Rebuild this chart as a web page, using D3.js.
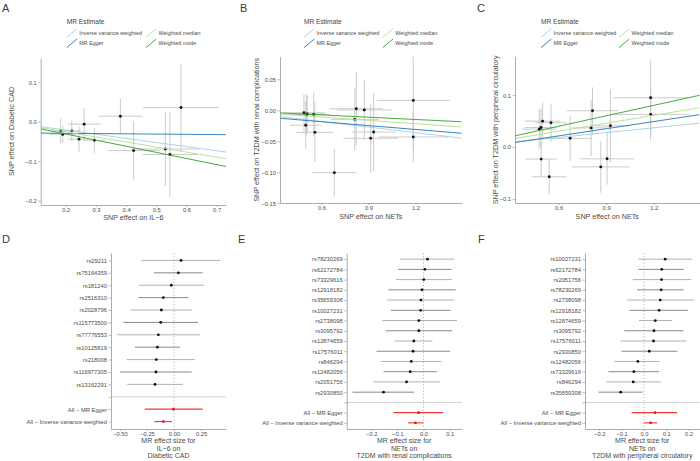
<!DOCTYPE html>
<html><head><meta charset="utf-8">
<script src="https://cdn.jsdelivr.net/npm/d3@7"></script>
<style>
body{margin:0;background:#fff}
svg{display:block}
text{font-family:"Liberation Sans",Arial,Helvetica,sans-serif}
</style>
</head><body>
<svg id="chart" width="700" height="461"></svg>
<script>
// ---------- Methods ----------
const methodNames = ["Inverse variance weighted", "MR Egger", "Weighted median", "Weighted mode"];
const methodColors = ["#a6cee3", "#1f78b4", "#b2df8a", "#33a02c"];

// ---------- Panel A (IL-6 -> Diabetic CAD) ----------
const aExpBeta = [0.183, 0.190, 0.220, 0.244, 0.261, 0.295, 0.381, 0.425, 0.530, 0.545, 0.582];
const aExpSe   = [0.030, 0.045, 0.030, 0.036, 0.054, 0.036, 0.073, 0.085, 0.110, 0.090, 0.126];
const aOutBeta = [-0.023, -0.032, -0.023, -0.044, -0.006, -0.047, 0.014, -0.073, -0.069, -0.083, 0.036];
const aOutSe   = [0.032, 0.022, 0.026, 0.032, 0.041, 0.032, 0.044, 0.074, 0.095, 0.109, 0.110];
const aIntercepts = [0, -0.028, 0, 0];
const aSlopes     = [-0.105, -0.0064, -0.128, -0.155];
const aXTicks = [0.2, 0.3, 0.4, 0.5, 0.6, 0.7];
const aYTicks = [-0.2, -0.1, 0.0, 0.1];

// ---------- Panel B (NETs -> T2DM renal) ----------
const bExpBeta = [0.488, 0.499, 0.505, 0.509, 0.550, 0.558, 0.682, 0.812, 0.822, 0.873, 0.914, 0.933, 1.186, 1.186];
const bExpSe   = [0.130, 0.100, 0.110, 0.120, 0.100, 0.120, 0.140, 0.155, 0.170, 0.175, 0.175, 0.140, 0.234, 0.220];
const bOutBeta = [-0.004, -0.024, -0.007, -0.006, -0.0065, -0.0355, -0.1006, -0.0146, 0.0026, 0.0005, -0.045, -0.035, 0.016, -0.043];
const bOutSe   = [0.030, 0.038, 0.033, 0.030, 0.035, 0.048, 0.038, 0.050, 0.060, 0.048, 0.055, 0.063, 0.080, 0.042];
const bIntercepts = [0, -0.0059, 0, 0];
const bSlopes     = [-0.030, -0.0208, -0.018, -0.0123];
const bXTicks = [0.6, 0.9, 1.2];
const bYTicks = [-0.15, -0.10, -0.05, 0.00, 0.05];

// ---------- Panel C (NETs -> T2DM peripheral circulatory) ----------
const cExpBeta = [0.478, 0.489, 0.499, 0.552, 0.490, 0.541, 0.673, 0.814, 0.805, 0.866, 0.906, 0.927, 1.181, 1.181];
const cExpSe   = [0.110, 0.100, 0.113, 0.100, 0.100, 0.110, 0.140, 0.163, 0.120, 0.180, 0.170, 0.130, 0.233, 0.240];
const cOutBeta = [0.0346, 0.0377, 0.050, 0.047, -0.023, -0.057, 0.017, 0.070, 0.037, -0.038, -0.0225, 0.041, 0.095, 0.063];
const cOutSe   = [0.038, 0.038, 0.036, 0.037, 0.035, 0.035, 0.043, 0.045, 0.054, 0.050, 0.050, 0.070, 0.072, 0.050];
const cIntercepts = [0, -0.006, 0, 0];
const cSlopes     = [0.031, 0.046, 0.051, 0.067];
const cXTicks = [0.6, 0.9, 1.2];
const cYTicks = [-0.1, 0.0, 0.1];

// ---------- Panel D forest ----------
const dSnps = ["rs29211","rs75164359","rs181240","rs2516310","rs2028796","rs115773500","rs77776553","rs10125819","rs218008","rs116977305","rs13162291"];
const dB  = [0.065, 0.040, -0.025, -0.099, -0.117, -0.123, -0.145, -0.154, -0.164, -0.167, -0.176];
const dLo = [-0.300, -0.185, -0.324, -0.330, -0.400, -0.469, -0.531, -0.361, -0.438, -0.500, -0.432];
const dHi = [0.426, 0.265, 0.278, 0.133, 0.164, 0.222, 0.241, 0.056, 0.194, 0.164, 0.080];
const dAllB  = [-0.006, -0.099];
const dAllLo = [-0.270, -0.182];
const dAllHi = [0.265, -0.019];
const dXTicks = [-0.50, -0.25, 0.00, 0.25];

// ---------- Panel E forest ----------
const eSnps = ["rs78230269","rs62172784","rs73329616","rs12918182","rs35659308","rs10027231","rs2738098","rs3095792","rs12874659","rs17576011","rs846294","rs12482056","rs2051756","rs2930850"];
const eB  = [0.015, 0.005, 0.001, -0.006, -0.010, -0.011, -0.018, -0.018, -0.037, -0.040, -0.047, -0.051, -0.065, -0.153];
const eLo = [-0.089, -0.097, -0.106, -0.134, -0.138, -0.125, -0.158, -0.144, -0.110, -0.180, -0.163, -0.153, -0.192, -0.272];
const eHi = [0.118, 0.107, 0.110, 0.123, 0.116, 0.103, 0.128, 0.110, 0.034, 0.102, 0.068, 0.051, 0.063, -0.036];
const eAllB  = [-0.019, -0.031];
const eAllLo = [-0.116, -0.060];
const eAllHi = [0.075, -0.001];
const eXTicks = [-0.2, -0.1, 0.0, 0.1];

// ---------- Panel F forest ----------
const fSnps = ["rs10027231","rs62172784","rs2051756","rs78230269","rs2738098","rs12918182","rs12874659","rs3095792","rs17576011","rs2930850","rs12482056","rs73329616","rs846294","rs35659308"];
const fB  = [0.095, 0.080, 0.079, 0.077, 0.073, 0.068, 0.051, 0.045, 0.043, 0.024, -0.027, -0.045, -0.048, -0.104];
const fLo = [-0.025, -0.025, -0.050, -0.031, -0.074, -0.065, -0.022, -0.088, -0.105, -0.100, -0.132, -0.159, -0.169, -0.204];
const fHi = [0.217, 0.178, 0.212, 0.178, 0.224, 0.198, 0.126, 0.177, 0.190, 0.150, 0.070, 0.068, 0.076, -0.006];
const fAllB  = [0.049, 0.030];
const fAllLo = [-0.055, 0.000];
const fAllHi = [0.149, 0.060];
const fXTicks = [-0.2, -0.1, 0.0, 0.1, 0.2];

const allLabels = ["All \u2212 MR Egger", "All \u2212 Inverse variance weighted"];

// ---------- Drawing ----------
const svg = d3.select("#chart");
svg.append("rect").attr("width", 700).attr("height", 461).attr("fill", "#fff");

const TICK_FS = 5.8, TITLE_FS = 7.2;
const axisColor = "#8a8a8a", tickTextColor = "#4d4d4d", titleColor = "#4a4a4a";

function styleAxis(g) {
  g.select(".domain").attr("stroke", axisColor).attr("stroke-width", 0.7);
  g.selectAll(".tick line").attr("stroke", axisColor).attr("stroke-width", 0.6);
  g.selectAll(".tick text").attr("fill", tickTextColor).style("font-size", TICK_FS + "px")
    .style("font-family", '"Liberation Sans",Arial,sans-serif');
}

function panelLetter(txt, x, y) {
  svg.append("text").attr("x", x).attr("y", y).text(txt)
    .attr("fill", "#3a3a3a").style("font-size", "11px");
}

function legend(x0, col2x) {
  const g = svg.append("g");
  g.append("text").attr("x", x0).attr("y", 23.5).text("MR Estimate")
    .attr("fill", "#444").style("font-size", "6.6px");
  const rowsY = [33, 43.3];
  methodNames.forEach((m, i) => {
    const col = i < 2 ? 0 : 1;
    const row = i % 2;
    const kx = col === 0 ? x0 : col2x;
    const cy = rowsY[row];
    g.append("line").attr("x1", kx).attr("y1", cy + 4.3).attr("x2", kx + 10.3).attr("y2", cy - 4.3)
      .attr("stroke", methodColors[i]).attr("stroke-width", 0.9);
    g.append("text").attr("x", kx + 12.6).attr("y", cy + 1.9).text(m)
      .attr("fill", "#4d4d4d").style("font-size", "5.4px");
  });
}

let clipId = 0;
function scatterPanel(p) {
  const x = d3.scaleLinear().domain(p.xDomain).range([p.left, p.right]);
  const y = d3.scaleLinear().domain(p.yDomain).range([p.bottom, p.top]);
  const g = svg.append("g");
  const id = "clip" + (clipId++);
  svg.append("clipPath").attr("id", id).append("rect")
    .attr("x", p.left).attr("y", p.top).attr("width", p.right - p.left).attr("height", p.bottom - p.top);
  const plot = g.append("g").attr("clip-path", `url(#${id})`);
  const idx = d3.range(p.ex.length);
  plot.selectAll(".ev").data(idx).join("line")
    .attr("x1", i => x(p.ex[i])).attr("x2", i => x(p.ex[i]))
    .attr("y1", i => y(p.oy[i] - p.oySe[i])).attr("y2", i => y(p.oy[i] + p.oySe[i]))
    .attr("stroke", "#c6c6c6").attr("stroke-width", 0.9);
  plot.selectAll(".eh").data(idx).join("line")
    .attr("y1", i => y(p.oy[i])).attr("y2", i => y(p.oy[i]))
    .attr("x1", i => x(p.ex[i] - p.exSe[i])).attr("x2", i => x(p.ex[i] + p.exSe[i]))
    .attr("stroke", "#c6c6c6").attr("stroke-width", 0.9);
  plot.selectAll(".pt").data(idx).join("circle")
    .attr("cx", i => x(p.ex[i])).attr("cy", i => y(p.oy[i])).attr("r", 1.45).attr("fill", "#111");
  const [x0, x1] = p.xDomain;
  methodNames.forEach((m, k) => {
    plot.append("line")
      .attr("x1", x(x0)).attr("y1", y(p.intercepts[k] + p.slopes[k] * x0))
      .attr("x2", x(x1)).attr("y2", y(p.intercepts[k] + p.slopes[k] * x1))
      .attr("stroke", methodColors[k]).attr("stroke-width", 0.9);
  });
  g.append("g").attr("transform", `translate(0,${p.bottom})`)
    .call(d3.axisBottom(x).tickValues(p.xTicks).tickFormat(d3.format(p.xFmt)).tickSize(2).tickSizeOuter(0).tickPadding(1))
    .call(styleAxis);
  g.append("g").attr("transform", `translate(${p.left},0)`)
    .call(d3.axisLeft(y).tickValues(p.yTicks).tickFormat(d3.format(p.yFmt)).tickSize(2.5).tickSizeOuter(0).tickPadding(1.5))
    .call(styleAxis);
  g.append("text").attr("x", (p.left + p.right) / 2).attr("y", p.xTitleY).attr("text-anchor", "middle")
    .text(p.xTitle).attr("fill", titleColor).style("font-size", TITLE_FS + "px");
  g.append("text").attr("transform", `translate(${p.yTitleX},${(p.top + p.bottom) / 2}) rotate(-90)`)
    .attr("text-anchor", "middle").attr("dy", "0.35em")
    .text(p.yTitle).attr("fill", titleColor).style("font-size", TITLE_FS + "px");
}

function forestPanel(p) {
  const rows = p.snps.concat([" "], allLabels);
  const bAll = p.b.concat([null], p.allB);
  const loAll = p.lo.concat([null], p.allLo);
  const hiAll = p.hi.concat([null], p.allHi);
  const x = d3.scaleLinear().domain(p.xDomain).range([p.left, p.right]);
  const y = d3.scalePoint().domain(rows).range([p.top, p.bottom]).padding(0.6);
  const g = svg.append("g");
  const idx = d3.range(rows.length).filter(i => bAll[i] !== null);
  g.append("line").attr("x1", x(0)).attr("x2", x(0)).attr("y1", p.top).attr("y2", p.bottom)
    .attr("stroke", "#9a9a9a").attr("stroke-width", 0.7).attr("stroke-dasharray", "1.2,2");
  g.append("line").attr("x1", p.left).attr("x2", p.right).attr("y1", y(" ")).attr("y2", y(" "))
    .attr("stroke", "#bdbdbd").attr("stroke-width", 0.7);
  const isAll = i => i > p.snps.length;
  g.selectAll(".ci").data(idx).join("line")
    .attr("x1", i => x(loAll[i])).attr("x2", i => x(hiAll[i]))
    .attr("y1", i => y(rows[i])).attr("y2", i => y(rows[i]))
    .attr("stroke", i => isAll(i) ? "#f03a3a" : (i % 2 ? "#7a7a7a" : "#a8a8a8"))
    .attr("stroke-width", i => isAll(i) ? 1.1 : 0.9);
  g.selectAll(".pt").data(idx).join("circle")
    .attr("cx", i => x(bAll[i])).attr("cy", i => y(rows[i])).attr("r", 1.4)
    .attr("fill", i => isAll(i) ? "#e8141a" : "#111");
  g.append("g").attr("transform", `translate(0,${p.bottom})`)
    .call(d3.axisBottom(x).tickValues(p.xTicks).tickFormat(d3.format(p.xFmt)).tickSize(2).tickSizeOuter(0).tickPadding(1))
    .call(styleAxis);
  g.append("g").attr("transform", `translate(${p.left},0)`)
    .call(d3.axisLeft(y).tickSize(2.5).tickSizeOuter(0).tickPadding(1.5))
    .call(styleAxis);
  const t = g.append("text").attr("text-anchor", "middle").attr("fill", titleColor)
    .style("font-size", "7px");
  p.xTitle.forEach((line, k) => {
    t.append("tspan").attr("x", (p.left + p.right) / 2).attr("y", 443 + k * 7.7).text(line);
  });
}

panelLetter("A", 2, 11.5);
panelLetter("B", 240, 11.5);
panelLetter("C", 477, 11.5);
panelLetter("D", 2, 242.5);
panelLetter("E", 238, 242.5);
panelLetter("F", 478, 242.5);

legend(66.7, 146);
legend(304, 382.7);
legend(541, 619);

scatterPanel({left: 40.7, right: 226, top: 58, bottom: 205,
  xDomain: [0.117, 0.731], yDomain: [-0.2109, 0.1616],
  ex: aExpBeta, exSe: aExpSe, oy: aOutBeta, oySe: aOutSe,
  intercepts: aIntercepts, slopes: aSlopes,
  xTicks: aXTicks, yTicks: aYTicks, xFmt: ".1f", yFmt: ".1f",
  xTitle: "SNP effect on IL\u22126", yTitle: "SNP effect on Diabetic CAD",
  xTitleY: 220.2, yTitleX: 11.7});

scatterPanel({left: 280, right: 461.7, top: 56.7, bottom: 203,
  xDomain: [0.335, 1.495], yDomain: [-0.1495, 0.0865],
  ex: bExpBeta, exSe: bExpSe, oy: bOutBeta, oySe: bOutSe,
  intercepts: bIntercepts, slopes: bSlopes,
  xTicks: bXTicks, yTicks: bYTicks, xFmt: ".1f", yFmt: ".2f",
  xTitle: "SNP effect on NETs", yTitle: "SNP effect on T2DM with renal complications",
  xTitleY: 219.2, yTitleX: 256});

scatterPanel({left: 515, right: 699.5, top: 56.7, bottom: 203,
  xDomain: [0.325, 1.489], yDomain: [-0.1075, 0.174],
  ex: cExpBeta, exSe: cExpSe, oy: cOutBeta, oySe: cOutSe,
  intercepts: cIntercepts, slopes: cSlopes,
  xTicks: cXTicks, yTicks: cYTicks, xFmt: ".1f", yFmt: ".1f",
  xTitle: "SNP effect on NETs", yTitle: "SNP effect on T2DM with peripheral circulatory",
  xTitleY: 219.2, yTitleX: 495.7});

forestPanel({left: 111, right: 226, top: 253, bottom: 429, xDomain: [-0.583, 0.481],
  snps: dSnps, b: dB, lo: dLo, hi: dHi, allB: dAllB, allLo: dAllLo, allHi: dAllHi,
  xTicks: dXTicks, xFmt: ".2f",
  xTitle: ["MR effect size for", "IL\u22126 on", "Diabetic CAD"]});

forestPanel({left: 346.7, right: 461.7, top: 253, bottom: 429, xDomain: [-0.294, 0.146],
  snps: eSnps, b: eB, lo: eLo, hi: eHi, allB: eAllB, allLo: eAllLo, allHi: eAllHi,
  xTicks: eXTicks, xFmt: ".1f",
  xTitle: ["MR effect size for", "NETs on", "T2DM with renal complications"]});

forestPanel({left: 585, right: 699.5, top: 253, bottom: 429, xDomain: [-0.264, 0.249],
  snps: fSnps, b: fB, lo: fLo, hi: fHi, allB: fAllB, allLo: fAllLo, allHi: fAllHi,
  xTicks: fXTicks, xFmt: ".1f",
  xTitle: ["MR effect size for", "NETs on", "T2DM with peripheral circulatory"]});
</script>
</body></html>
